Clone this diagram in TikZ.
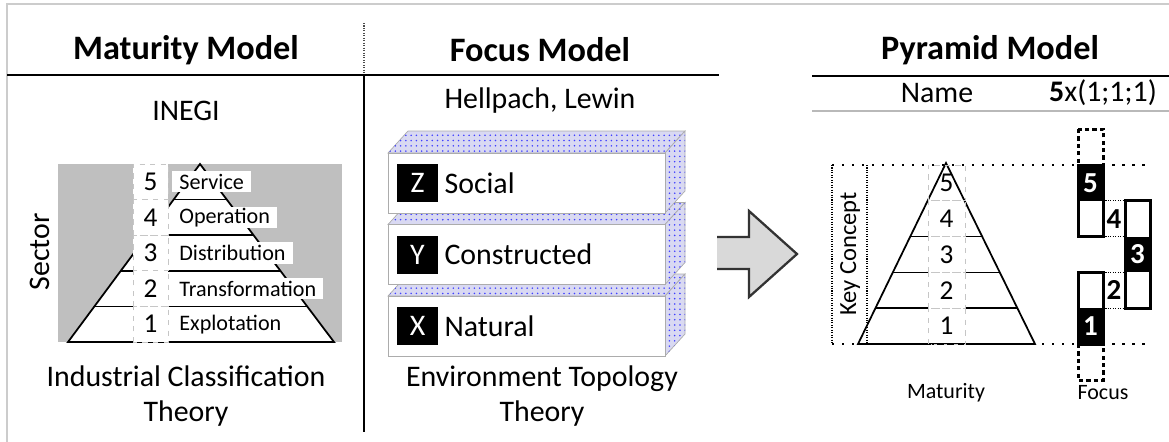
\documentclass[tikz,border=0pt]{standalone}
\usepackage{fontspec}
\setmainfont{Carlito}
\usetikzlibrary{shapes, arrows, positioning, patterns}

\tikzstyle{title} = [font=\fontsize{19.5}{22}\selectfont\bfseries]
\tikzstyle{source} = [font=\fontsize{17}{20}\selectfont]
\tikzstyle{theory} = [font=\fontsize{17}{20}\selectfont, align=center]
\tikzstyle{digit} = [font=\fontsize{15.5}{18}\selectfont, inner sep=0pt]
\tikzstyle{bolddigit} = [font=\fontsize{16.5}{19}\selectfont\bfseries, inner sep=0pt]
\tikzstyle{tag} = [fill=white, font=\fontsize{12.6}{15}\selectfont, anchor=west,
    inner xsep=4pt, inner ysep=0pt, minimum height=12pt]
\tikzstyle{cell} = [draw=gray!45, dashed, fill=white]
\tikzstyle{face} = [draw=gray!65, fill=gray!50!blue!20, postaction={pattern=dots, pattern color=blue!75}]
\tikzstyle{front} = [draw=gray!65, fill=white]
\tikzstyle{letter} = [fill=black, text=white, font=\fontsize{17}{20}\selectfont,
    minimum width=0.82cm, minimum height=0.76cm, inner sep=0pt]
\tikzstyle{layer} = [font=\fontsize{17}{20}\selectfont]
\tikzstyle{bigarrow} = [draw=gray!40!black, line width=1.3pt, line join=miter]
\tikzstyle{slot} = [draw, line width=1.7pt]
\tikzstyle{ghost} = [draw, line width=1.7pt, dash pattern=on 2.4pt off 1.8pt]
\tikzstyle{guide} = [line width=1.2pt, dash pattern=on 1.2pt off 4.5pt]
\tikzstyle{keyframe} = [line width=0.6pt, dash pattern=on 0.6pt off 0.8pt]
\tikzstyle{axislabel} = [font=\fontsize{12.5}{15}\selectfont]

\begin{document}
\begin{tikzpicture}[x=0.02cm, y=-0.02cm]
    \useasboundingbox (0,0) rectangle (1169,441);
    % outer frame, cut by the page on the right and at the bottom
    \draw[gray!40, line width=1.2pt] (7,460) -- (7,4) -- (1190,4);

    % We start by placing the three headers
    \node[title] (maturity) at (186,50) {Maturity Model};
    \node[title] (focus) at (540,50) {Focus Model};
    \node[title] (pyramid) at (990,50) {Pyramid Model};
    \draw[line width=1.3pt] (7,75) -- (719,75);
    \draw[line width=1.3pt] (812,76) -- (1169,76);
    \draw[gray!60!black, line width=0.6pt, dash pattern=on 0.6pt off 0.8pt] (364,23) -- (364,75);
    \draw[line width=1.6pt] (364,75) -- (364,432);

    % Maturity model: the INEGI sectors
    \node[source] (inegi) at (186,111) {INEGI};
    \fill[gray!50] (58,164) rectangle (342,342);
    \draw[fill=white, line width=1pt] (68,342) -- (200,164) -- (334,342) -- cycle;
    \begin{scope}
        \clip (68,342) -- (200,164) -- (334,342) -- cycle;
        \foreach \y in {199.6, 235.2, 270.8, 306.4}
            \draw[line width=1pt] (58,\y) -- (342,\y);
    \end{scope}
    \foreach \n/\lbl [count=\i from 0] in {1/Explotation, 2/Transformation, 3/Distribution, 4/Operation, 5/Service} {
        \draw[cell] (133,{342-35.6*\i}) rectangle (168,{342-35.6*(\i+1)});
        \node[digit] (sn\n) at (150.5,{342-35.6*(\i+0.5)}) {\n};
        \node[tag] (sector\n) at (172,{342-35.6*(\i+0.5)}) {\lbl};
    }
    \node[source, rotate=90] (sector) at (40,252) {Sector};
    \node[theory] (ict) at (186,396) {Industrial Classification\\Theory};

    % Focus model: stacked environment layers, drawn from the bottom up
    \node[source] (hellpach) at (540,101) {Hellpach, Lewin};
    \foreach \yy/\l/\name in {296/X/Natural, 224.5/Y/Constructed, 153/Z/Social} {
        \draw[face] (388,\yy) -- (408,\yy-22) -- (685,\yy-22) -- (665,\yy) -- cycle;
        \draw[face] (665,\yy) -- (685,\yy-22) -- (685,\yy+38) -- (665,\yy+60) -- cycle;
        \draw[front] (388,\yy) rectangle (665,\yy+60);
        \node[letter] (box\l) at (417.5,\yy+30) {\l};
        \node[layer, right=0pt of box\l] (layer\l) {\name};
    }
    \node[theory] (ett) at (542,396) {Environment Topology\\Theory};

    % transition arrow
    \fill[gray!30] (717,237) -- (749,237) -- (749,211) -- (797,254) -- (749,297) -- (749,269) -- (717,269) -- cycle;
    \draw[bigarrow] (717,237) -- (749,237) -- (749,211) -- (797,254) -- (749,297) -- (749,269) -- (717,269);

    % Pyramid model
    \node[source] (name) at (937,93) {Name};
    \node[source] (code) at (1103,93) {\textbf{5}x(1;1;1)};
    \draw[gray!55, line width=0.8pt] (812,111) -- (1169,111);

    \draw[keyframe] (832,165) -- (832,344);
    \draw[keyframe] (867,165) -- (867,344);
    \draw[guide] (832,165) -- (1152,165);
    \node[font=\fontsize{14}{17}\selectfont, rotate=90] (keyconcept) at (850,254) {Key Concept};

    \draw[line width=1pt] (858,344) -- (946,163) -- (1035,344) -- cycle;
    \begin{scope}
        \clip (858,344) -- (946,163) -- (1035,344) -- cycle;
        \foreach \y in {200.8, 236.6, 272.4, 308.2} {
            \draw[line width=1pt] (858,\y) -- (928,\y);
            \draw[line width=1pt] (965,\y) -- (1035,\y);
        }
    \end{scope}
    \foreach \n in {1,...,5} {
        \draw[cell, fill=none] (928,{344-35.8*(\n-1)}) rectangle (965,{344-35.8*\n});
        \node[digit] (level\n) at (946.5,{344-35.8*(\n-0.5)}) {\n};
    }
    \draw[guide] (832,344) -- (1152,344);

    % focus slots
    \draw[ghost] (1078,129) rectangle (1103,165);
    \draw[ghost] (1078,344) rectangle (1103,380);
    \fill (1078,165) rectangle (1103,200.8);
    \fill (1078,308.2) rectangle (1103,344);
    \fill (1125,236.6) rectangle (1150,272.4);
    \draw[slot] (1078,165) rectangle (1103,236.6);
    \draw[slot] (1078,272.4) rectangle (1103,344);
    \draw[slot] (1125,200.8) rectangle (1150,308.2);
    \node[bolddigit, text=white] (focus5) at (1090.5,182.9) {5};
    \node[bolddigit, text=white] (focus3) at (1137.5,254.5) {3};
    \node[bolddigit, text=white] (focus1) at (1090.5,326.1) {1};
    \foreach \y in {200.8, 236.6, 272.4, 308.2}
        \draw[keyframe] (1103,\y) -- (1125,\y);
    \node[bolddigit] (focus4) at (1114,218.7) {4};
    \node[bolddigit] (focus2) at (1114,290.3) {2};

    \node[axislabel] (maturitylabel) at (946,393) {Maturity};
    \node[axislabel] (focuslabel) at (1103,393) {Focus};
\end{tikzpicture}
\end{document}
